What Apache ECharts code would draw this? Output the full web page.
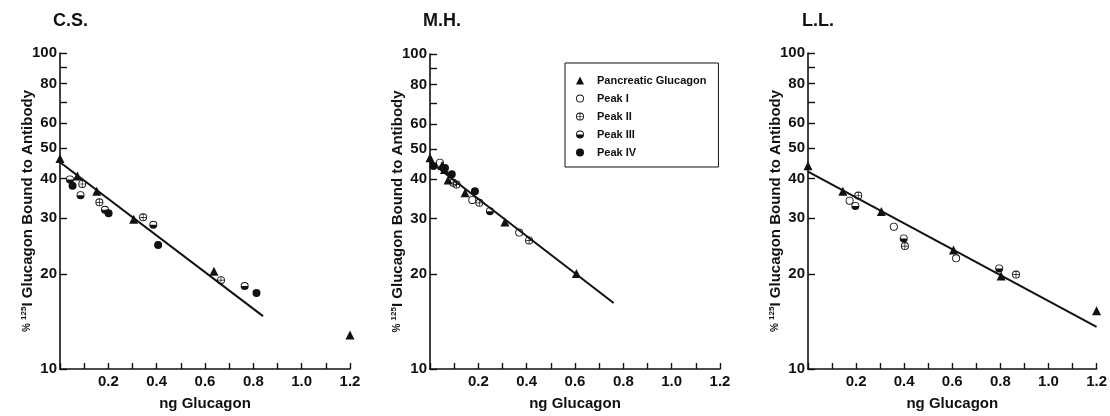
<!DOCTYPE html>
<html>
<head>
<meta charset="utf-8">
<script src="https://cdn.jsdelivr.net/npm/echarts@6/dist/echarts.min.js"></script>
<style>
  html, body { margin: 0; padding: 0; background: #fff; }
  #chart { width: 1110px; height: 416px; }
</style>
</head>
<body>
<div id="chart"></div>
<script>
// series names (legend order)
const seriesNames = ['Pancreatic Glucagon', 'Peak I', 'Peak II', 'Peak III', 'Peak IV']
const panelTitles = ['C.S.', 'M.H.', 'L.L.']

// axis ticks
const yTickValues = [10, 20, 30, 40, 50, 60, 70, 80, 90, 100]
const yLabelValues = [10, 20, 30, 40, 50, 60, 80, 100]
const xLabelValues = [0.2, 0.4, 0.6, 0.8, 1.0, 1.2]

// C.S. — [ng glucagon, % bound]
const csPancreatic = [[0, 46.4], [0.072, 40.8], [0.152, 36.5], [0.305, 29.8], [0.637, 20.4], [1.2, 12.8]]
const csPeak1 = []
const csPeak2 = [[0.092, 38.5], [0.163, 33.7], [0.344, 30.2], [0.666, 19.1]]
const csPeak3 = [[0.041, 39.8], [0.085, 35.5], [0.186, 31.9], [0.386, 28.6], [0.764, 18.3]]
const csPeak4 = [[0.052, 38.0], [0.201, 31.1], [0.406, 24.7], [0.813, 17.4]]
const csFit = [[0, 45.1], [0.84, 14.7]]

// M.H.
const mhPancreatic = [[0, 46.8], [0.05, 44.3], [0.06, 43.0], [0.075, 39.8], [0.145, 36.3], [0.31, 29.3], [0.606, 20.1]]
const mhPeak1 = [[0.041, 45.2], [0.175, 34.4], [0.369, 27.1]]
const mhPeak2 = [[0.096, 39.0], [0.11, 38.5], [0.204, 33.7], [0.41, 25.6]]
const mhPeak3 = [[0.248, 31.7]]
const mhPeak4 = [[0.014, 44.1], [0.062, 43.5], [0.09, 41.5], [0.186, 36.7]]
const mhFit = [[0, 45.5], [0.76, 16.2]]

// L.L.
const llPancreatic = [[0, 44.0], [0.145, 36.5], [0.305, 31.5], [0.605, 23.8], [0.803, 19.7], [1.2, 15.3]]
const llPeak1 = [[0.173, 34.1], [0.357, 28.2], [0.616, 22.4]]
const llPeak2 = [[0.209, 35.4], [0.403, 24.5], [0.865, 19.9]]
const llPeak3 = [[0.197, 32.8], [0.398, 25.9], [0.795, 20.8]]
const llPeak4 = []
const llFit = [[0, 42.1], [1.2, 13.6]]

const panels = [
  { points: [csPancreatic, csPeak1, csPeak2, csPeak3, csPeak4], fit: csFit },
  { points: [mhPancreatic, mhPeak1, mhPeak2, mhPeak3, mhPeak4], fit: mhFit },
  { points: [llPancreatic, llPeak1, llPeak2, llPeak3, llPeak4], fit: llFit }
]

const FONT = '"Liberation Sans", Arial, sans-serif'
const INK = '#111'

// marker shapes (nonzero winding: outer ring CW, holes CCW)
const OUTER = 'M10 0 A10 10 0 1 1 10 20 A10 10 0 1 1 10 0 Z '
const INNER = 'M10 2.2 A7.8 7.8 0 1 0 10 17.8 A7.8 7.8 0 1 0 10 2.2 Z '
const symbols = [
  'triangle',
  'path://' + OUTER + INNER,
  'path://' + OUTER + INNER + 'M9.1 2 L10.9 2 L10.9 18 L9.1 18 Z M2 9.1 L18 9.1 L18 10.9 L2 10.9 Z',
  'path://' + OUTER + 'M17.8 10 A7.8 7.8 0 0 0 2.2 10 Z',
  'circle'
]
const symbolSizes = [9, 8, 8, 8, 8]

const grids = [
  { left: 60, top: 53, width: 290, height: 316 },
  { left: 430, top: 54, width: 290, height: 316 },
  { left: 808, top: 53, width: 290, height: 316 }
]
const titleLefts = [53, 423, 802]

const axisLine = { lineStyle: { color: INK, width: 1.6 } }

const xAxes = grids.map((g, i) => ({
  gridIndex: i,
  type: 'value',
  min: 0,
  max: 1.2,
  interval: 0.1,
  name: 'ng Glucagon',
  nameLocation: 'middle',
  nameGap: 27,
  nameTextStyle: { fontFamily: FONT, fontWeight: 'bold', fontSize: 15, color: INK },
  axisLine,
  axisTick: { inside: true, length: 6, lineStyle: { color: INK, width: 1.4 } },
  axisLabel: {
    customValues: xLabelValues,
    formatter: v => v.toFixed(1),
    margin: 5,
    fontFamily: FONT, fontWeight: 'bold', fontSize: 15, color: INK
  },
  splitLine: { show: false }
}))

const yAxes = grids.map((g, i) => ({
  gridIndex: i,
  type: 'log',
  logBase: 10,
  min: 10,
  max: 100,
  name: '{pct|%} {sup|125}{b|I Glucagon Bound to Antibody}',
  nameLocation: 'middle',
  nameGap: 25,
  nameMoveOverlap: false,
  nameTextStyle: {
    color: INK,
    rich: {
      pct: { fontFamily: FONT, fontWeight: 'bold', fontSize: 10, color: INK },
      sup: { fontFamily: FONT, fontWeight: 'bold', fontSize: 8, color: INK, verticalAlign: 'top' },
      b: { fontFamily: FONT, fontWeight: 'bold', fontSize: 15, color: INK }
    }
  },
  axisLine,
  axisTick: { inside: true, length: 7, customValues: yTickValues, lineStyle: { color: INK, width: 1.4 } },
  axisLabel: {
    customValues: yLabelValues,
    margin: 3,
    fontFamily: FONT, fontWeight: 'bold', fontSize: 15, color: INK
  },
  splitLine: { show: false },
  minorTick: { show: false }
}))

const series = []
panels.forEach((p, i) => {
  series.push({
    name: 'fit' + i,
    type: 'line',
    xAxisIndex: i,
    yAxisIndex: i,
    data: p.fit,
    showSymbol: false,
    silent: true,
    z: 1,
    lineStyle: { color: INK, width: 2 }
  })
  p.points.forEach((pts, k) => {
    series.push({
      name: seriesNames[k],
      type: 'scatter',
      xAxisIndex: i,
      yAxisIndex: i,
      data: pts,
      symbol: symbols[k],
      symbolSize: symbolSizes[k],
      z: 3,
      itemStyle: { color: INK, opacity: 1 }
    })
  })
})

const chart = echarts.init(document.getElementById('chart'), null, { renderer: 'canvas' })
chart.setOption({
  animation: false,
  backgroundColor: '#fff',
  title: panelTitles.map((t, i) => ({
    text: t,
    left: titleLefts[i],
    top: 12,
    padding: 0,
    textStyle: { fontFamily: FONT, fontWeight: 'bold', fontSize: 18, color: INK }
  })),
  legend: {
    orient: 'vertical',
    left: 565,
    top: 63,
    padding: [11, 12, 8, 11],
    itemGap: 5,
    itemWidth: 8,
    itemHeight: 8,
    borderColor: INK,
    borderWidth: 1,
    borderRadius: 0,
    selectedMode: false,
    textStyle: { fontFamily: FONT, fontWeight: 'bold', fontSize: 11, color: INK, lineHeight: 13, padding: [0, 0, 0, 8] },
    data: seriesNames.map((n, k) => ({ name: n, icon: symbols[k] }))
  },
  grid: grids,
  xAxis: xAxes,
  yAxis: yAxes,
  series
})
</script>
</body>
</html>
